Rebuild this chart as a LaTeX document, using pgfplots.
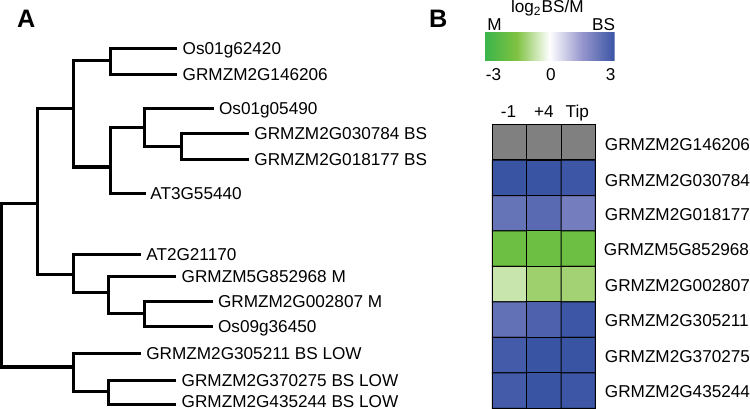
\documentclass[border=0pt]{standalone}
\usepackage{pgfplots}
\pgfplotsset{compat=1.18}
\usepackage{fontspec}
\setmainfont{Liberation Sans}
\usetikzlibrary{calc}

\begin{document}
\begin{tikzpicture}
\pgfplotsset{
  br/.style={black, line width=1.5pt, no markers, line join=miter},
  cell/.style={fill=gray!100!white, draw=black, line width=0.5pt, no markers},
}
\tikzset{
  lab/.style={anchor=base west, inner sep=0pt, font=\fontsize{8.5}{10}\selectfont},
  ctr/.style={anchor=base, inner sep=0pt, font=\fontsize{8.5}{10}\selectfont},
}
\begin{axis}[
  width=375pt, height=203.5pt, scale only axis,
  xmin=0, xmax=750, ymin=0, ymax=407, y dir=reverse,
  hide axis, clip=false,
  colormap={bsm}{rgb255=(57,181,74) rgb255=(128,194,66) rgb255=(255,255,255) rgb255=(150,150,205) rgb255=(58,84,164)},
  point meta min=-3, point meta max=3,
  colorbar horizontal,
  colorbar style={
    at={($(parent axis.north west)+(240.5pt,-8pt)$)}, anchor=north west,
    scale only axis, width=64.5pt, height=14pt,
    xtick=\empty, axis line style={draw=none}},
]
% tree: one bracket per internal node
\addplot[br] coordinates {(177,49) (111,49) (111,74) (177,74)};
\addplot[br] coordinates {(248,133) (181,133) (181,159) (248,159)};
\addplot[br] coordinates {(213,108) (145,108) (145,146) (181,146)};
\addplot[br] coordinates {(145,127) (111,127) (111,192) (146,192)};
\addplot[br] coordinates {(111,61) (74,61) (74,166) (111,166)};
\addplot[br] coordinates {(212,299) (145,299) (145,324) (212,324)};
\addplot[br] coordinates {(176,274) (109,274) (109,311) (145,311)};
\addplot[br] coordinates {(141,253) (74,253) (74,290) (109,290)};
\addplot[br] coordinates {(74,108) (39,108) (39,272) (74,272)};
\addplot[br] coordinates {(176,377) (109,377) (109,401) (176,401)};
\addplot[br] coordinates {(141,351) (74,351) (74,388) (109,388)};
\addplot[br] coordinates {(39,202) (3,202) (3,364) (74,364)};

% heatmap, gray row (no data)
\addplot[cell] coordinates {(489,124) (523,124) (523,159) (489,159) (489,124)};
\addplot[cell] coordinates {(523,124) (557,124) (557,159) (523,159) (523,124)};
\addplot[cell] coordinates {(557,124) (591,124) (591,159) (557,159) (557,124)};

\addplot[matrix plot*, mesh/cols=3, point meta=explicit, shader=faceted,
  faceted color=black, line width=0.5pt] table[meta=c] {
x   y     c
506 176.7 3.0
540 176.7 3.0
574 176.7 2.95
506 211.8 2.3
540 211.8 2.5
574 211.8 2.05
506 246.9 -1.9
540 246.9 -1.9
574 246.9 -1.9
506 282.1 -0.65
540 282.1 -1.15
574 282.1 -1.1
506 317.2 2.35
540 317.2 2.7
574 317.2 2.95
506 352.3 2.85
540 352.3 3.0
574 352.3 3.0
506 387.4 2.85
540 387.4 3.0
574 387.4 2.95
};

% labels
\node[anchor=base west, inner sep=0pt, font=\fontsize{12.5}{14}\selectfont\bfseries] at (axis cs:18,28) {A};
\node[anchor=base west, inner sep=0pt, font=\fontsize{12.5}{14}\selectfont\bfseries] at (axis cs:426,28) {B};

\node[lab] at (axis cs:182,55) {Os01g62420};
\node[lab] at (axis cs:182,80) {GRMZM2G146206};
\node[lab] at (axis cs:218,114) {Os01g05490};
\node[lab] at (axis cs:253,139) {GRMZM2G030784 BS};
\node[lab] at (axis cs:253,165) {GRMZM2G018177 BS};
\node[lab] at (axis cs:150,198) {AT3G55440};
\node[lab] at (axis cs:146,259) {AT2G21170};
\node[lab] at (axis cs:181,280) {GRMZM5G852968 M};
\node[lab] at (axis cs:217,305) {GRMZM2G002807 M};
\node[lab] at (axis cs:217,330) {Os09g36450};
\node[lab] at (axis cs:146,357) {GRMZM2G305211 BS LOW};
\node[lab] at (axis cs:181,383) {GRMZM2G370275 BS LOW};
\node[lab] at (axis cs:181,404) {GRMZM2G435244 BS LOW};

\node[lab] at (axis cs:507,13) {log\textsubscript{2}BS/M};
\node[ctr] at (axis cs:491,31) {M};
\node[ctr] at (axis cs:599,31) {BS};
\node[ctr] at (axis cs:490,80) {-3};
\node[ctr] at (axis cs:547,80) {0};
\node[ctr] at (axis cs:606,80) {3};
\node[ctr] at (axis cs:505,117) {-1};
\node[ctr] at (axis cs:540,117) {+4};
\node[ctr] at (axis cs:573,117) {Tip};

\node[lab] at (axis cs:600,150) {GRMZM2G146206};
\node[lab] at (axis cs:600,185) {GRMZM2G030784};
\node[lab] at (axis cs:600,219) {GRMZM2G018177};
\node[lab] at (axis cs:599,254) {GRMZM5G852968};
\node[lab] at (axis cs:600,289) {GRMZM2G002807};
\node[lab] at (axis cs:600,324) {GRMZM2G305211};
\node[lab] at (axis cs:600,360) {GRMZM2G370275};
\node[lab] at (axis cs:600,394) {GRMZM2G435244};
\end{axis}
\end{tikzpicture}
\end{document}
